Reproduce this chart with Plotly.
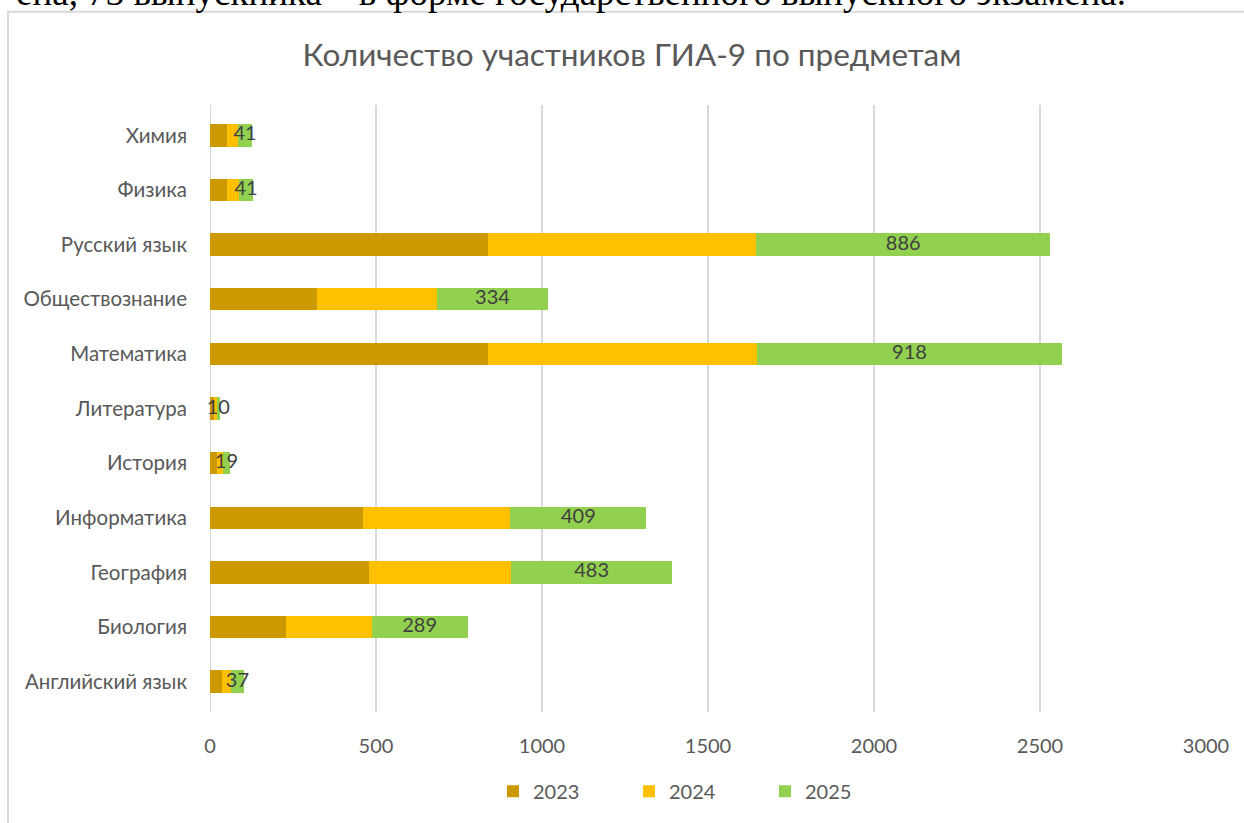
import plotly.graph_objects as go

# Data
subjects = ["Английский язык", "Биология", "География", "Информатика", "История",
            "Литература", "Математика", "Обществознание", "Русский язык", "Физика", "Химия"]
y2023 = [37, 230, 480, 462, 20, 12, 837, 321, 836, 51, 50]
y2024 = [27, 257, 428, 443, 20, 8, 811, 363, 809, 37, 35]
y2025 = [37, 289, 483, 409, 19, 10, 918, 334, 886, 41, 41]
years = ["2023", "2024", "2025"]
colors = ["#CC9900", "#FFC000", "#92D050"]
x_ticks = [0, 500, 1000, 1500, 2000, 2500, 3000]
title_text = "Количество участников ГИА-9 по предметам"
doc_text = "ена, 73 выпускника – в форме государственного выпускного экзамена."

FONT = "Lato"
W, H = 1244, 823
L, R = 210, 1206          # plot area pixel bounds (x)
T, B = 105.4, 713.6       # plot area pixel bounds (y)
pw, ph = R - L, B - T

def px_x(p):
    return (p - L) / pw

def px_y(p):
    return (B - p) / ph

fig = go.Figure()
for name, vals, col in zip(years, [y2023, y2024, y2025], colors):
    fig.add_trace(go.Bar(
        y=subjects, x=vals, name=name, orientation="h",
        marker=dict(color=col, line=dict(width=0)),
    ))

# data labels for 2025 series, centred on its segment
label_x = [a + b + c / 2 for a, b, c in zip(y2023, y2024, y2025)]
fig.add_trace(go.Scatter(
    y=subjects, x=label_x, mode="text", text=[str(v) for v in y2025],
    textposition="middle center", showlegend=False, hoverinfo="skip",
    textfont=dict(family=FONT, size=20, color="#404040"),
    cliponaxis=False,
))

fig.update_layout(
    barmode="stack",
    bargap=0.59,
    width=W, height=H,
    margin=dict(l=L, r=W - R, t=T, b=H - B, pad=0),
    paper_bgcolor="white",
    plot_bgcolor="white",
    font=dict(family=FONT, color="#595959", size=20),
    title=dict(text=title_text, x=632 / W, xref="container", xanchor="center",
               y=1 - 55 / H, yref="container", yanchor="middle",
               font=dict(family=FONT, size=31.5, color="#595959")),
    xaxis=dict(range=[0, 3000], tickvals=x_ticks, ticktext=[str(v) for v in x_ticks],
               showgrid=True, gridcolor="#D9D9D9", gridwidth=2,
               zeroline=False, showline=False, ticks="",
               ticklabelstandoff=20,
               tickfont=dict(family=FONT, size=20, color="#595959")),
    yaxis=dict(type="category", categoryorder="array", categoryarray=subjects,
               showgrid=False, zeroline=False, showline=False, ticks="",
               ticklabelstandoff=22,
               tickfont=dict(family=FONT, size=20.5, color="#595959")),
    legend=dict(orientation="h", x=px_x(493), xanchor="left",
                y=px_y(793), yanchor="middle", traceorder="normal",
                entrywidth=91, entrywidthmode="pixels",
                font=dict(family=FONT, size=20, color="#595959"),
                bgcolor="rgba(0,0,0,0)"),
    showlegend=True,
)

# zero gridline (vertical line at x=0)
fig.add_shape(type="line", xref="x", yref="paper", x0=0, x1=0, y0=0, y1=1,
              line=dict(color="#D9D9D9", width=2), layer="below")

# chart frame (document border)
fig.add_shape(type="rect", xref="paper", yref="paper",
              x0=px_x(8), x1=px_x(1300), y0=px_y(860), y1=px_y(12),
              line=dict(color="#D9D9D9", width=2), fillcolor="rgba(0,0,0,0)",
              layer="below")

# document text cut off at the top
fig.add_annotation(text=doc_text, xref="paper", yref="paper",
                   x=px_x(1128), xanchor="right", y=px_y(15), yanchor="bottom",
                   showarrow=False,
                   font=dict(family="Liberation Serif", size=37, color="#000000"))

fig.write_html("out.html", config={"displayModeBar": False},
               post_script="document.body.style.margin='0px';")
